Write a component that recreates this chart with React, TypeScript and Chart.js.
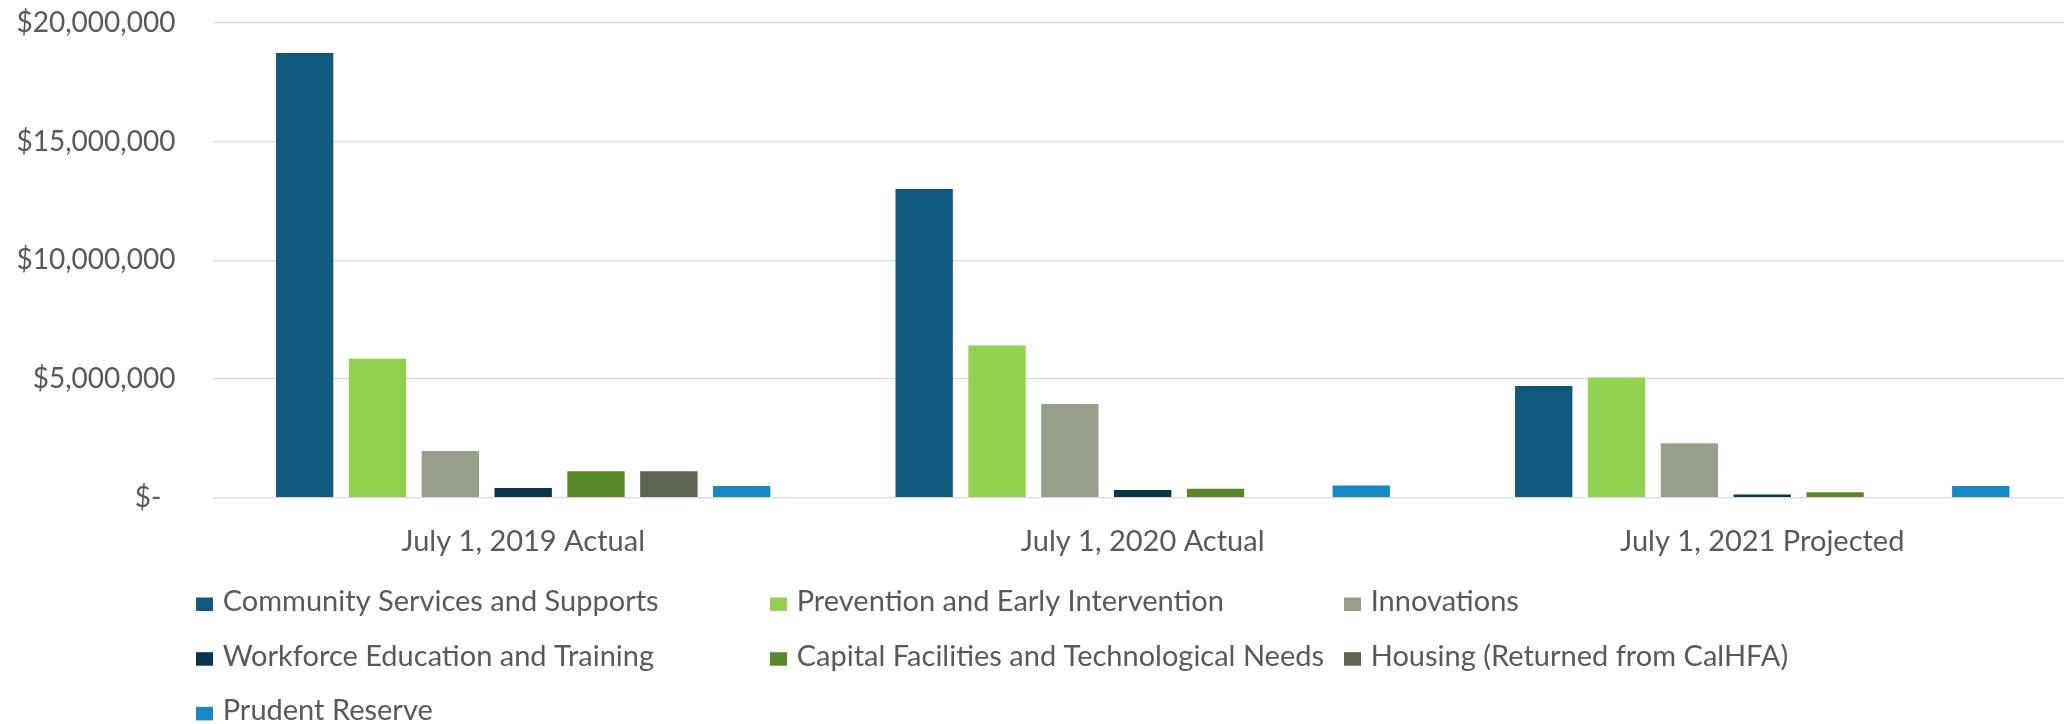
import React, { useEffect, useRef } from "react";
import { Chart, registerables } from "chart.js";

Chart.register(...registerables);

const categories = ["July 1, 2019 Actual", "July 1, 2020 Actual", "July 1, 2021 Projected"];

const seriesNames = [
  "Community Services and Supports",
  "Prevention and Early Intervention",
  "Innovations",
  "Workforce Education and Training",
  "Capital Facilities and Technological Needs",
  "Housing (Returned from CalHFA)",
  "Prudent Reserve",
];

const communityServices = [18740000, 13010000, 4710000];
const preventionEarly = [5850000, 6410000, 5060000];
const innovations = [1970000, 3950000, 2290000];
const workforceEducation = [410000, 320000, 140000];
const capitalFacilities = [1110000, 380000, 230000];
const housing = [1110000, 0, 0];
const prudentReserve = [490000, 510000, 490000];

const seriesValues = [
  communityServices,
  preventionEarly,
  innovations,
  workforceEducation,
  capitalFacilities,
  housing,
  prudentReserve,
];

const seriesColors = ["#0F597D", "#92D050", "#96A088", "#0B344F", "#588828", "#5A6450", "#1688C5"];

const yTicks = [0, 5000000, 10000000, 15000000, 20000000];

const FONT = "Lato, 'Open Sans', sans-serif";
const TEXT = "#595959";

const gridLegend = {
  id: "gridLegend",
  afterDraw(chart: any, _args: any, opts: any) {
    const ctx = chart.ctx;
    ctx.save();
    ctx.font = `${opts.fontSize}px ${FONT}`;
    ctx.textBaseline = "alphabetic";
    ctx.textAlign = "left";
    chart.data.datasets.forEach((ds: any, i: number) => {
      const col = i % opts.columns;
      const row = Math.floor(i / opts.columns);
      const x = opts.left + col * opts.colWidth;
      const base = opts.firstBaseline + row * opts.rowHeight;
      ctx.fillStyle = ds.backgroundColor;
      ctx.fillRect(x, base - opts.boxHeight, opts.boxWidth, opts.boxHeight);
      ctx.fillStyle = TEXT;
      ctx.fillText(ds.label, x + opts.textOffset, base);
    });
    ctx.restore();
  },
};

export default function App() {
  const canvasRef = useRef<HTMLCanvasElement | null>(null);

  useEffect(() => {
    if (!canvasRef.current) return;
    const chart = new Chart(canvasRef.current, {
      type: "bar",
      data: {
        labels: categories,
        datasets: seriesNames.map((name, i) => ({
          label: name,
          data: seriesValues[i],
          backgroundColor: seriesColors[i],
          borderWidth: 0,
          categoryPercentage: 0.823,
          barPercentage: 0.787,
        })),
      },
      plugins: [gridLegend],
      options: {
        responsive: false,
        animation: false,
        layout: { padding: { top: 23, bottom: 150, left: 0, right: 0 } },
        plugins: {
          legend: { display: false },
          tooltip: { enabled: false },
          gridLegend: {
            columns: 3,
            left: 196,
            colWidth: 574,
            firstBaseline: 611,
            rowHeight: 54.7,
            boxWidth: 17,
            boxHeight: 13.5,
            textOffset: 26.7,
            fontSize: 29,
          },
        } as any,
        scales: {
          x: {
            grid: { display: false },
            border: { display: false },
            ticks: {
              color: TEXT,
              font: { family: FONT, size: 29 },
              padding: 19,
              maxRotation: 0,
            },
            afterFit: (scale: any) => {
              scale.height = 76.3;
            },
          },
          y: {
            min: 0,
            max: 20000000,
            afterBuildTicks: (scale: any) => {
              scale.ticks = yTicks.map((v) => ({ value: v }));
            },
            grid: { color: "#D9D9D9", lineWidth: 1.3, drawTicks: false },
            border: { display: false },
            ticks: {
              color: TEXT,
              font: { family: FONT, size: 28 },
              padding: 38,
              callback: (v: any) =>
                Number(v) === 0 ? "$-\u2002" : "$" + Number(v).toLocaleString("en-US"),
            },
            afterFit: (scale: any) => {
              scale.width = 213.4;
              scale.paddingTop = 0;
              scale.paddingBottom = 0;
            },
          },
        },
      },
    });
    return () => chart.destroy();
  }, []);

  return (
    <div
      style={{
        position: "absolute",
        left: 0,
        top: 0,
        width: 2064,
        height: 724,
        overflow: "hidden",
        background: "#fff",
      }}
    >
      <canvas ref={canvasRef} width={2072} height={724} style={{ display: "block" }} />
    </div>
  );
}
